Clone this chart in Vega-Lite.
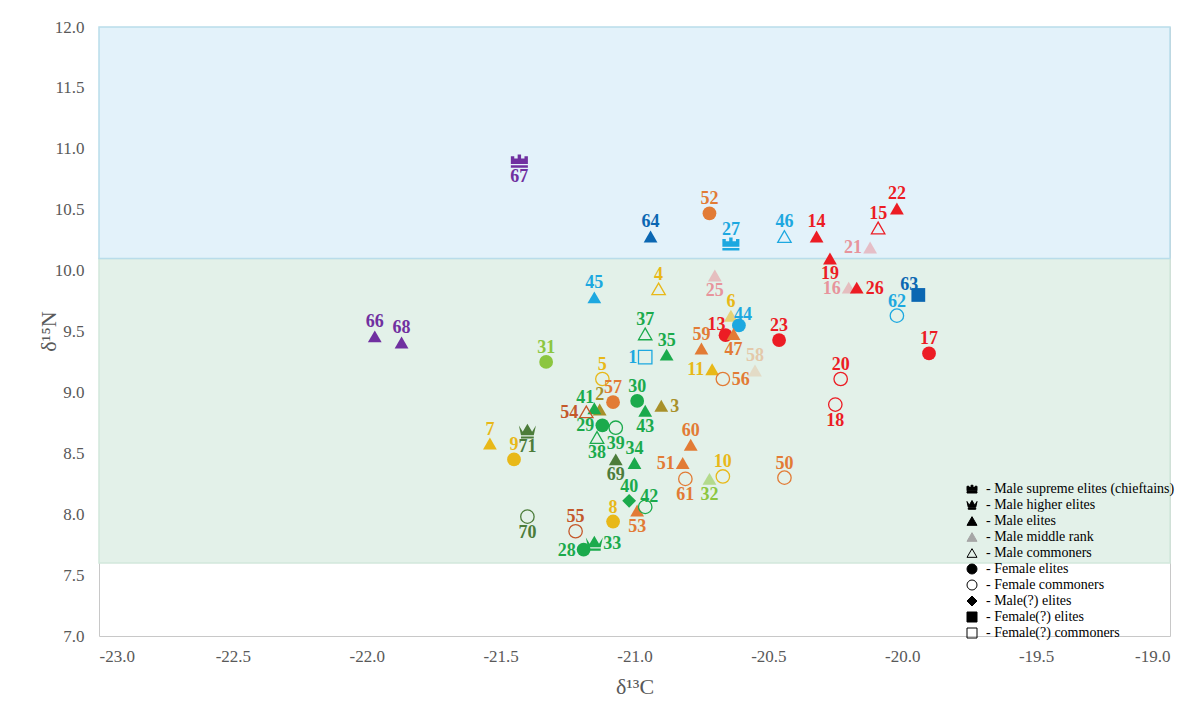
{
  "$schema": "https://vega.github.io/schema/vega-lite/v6.json",
  "width": 1071,
  "height": 609,
  "autosize": {"type": "none"},
  "padding": {"left": 99, "top": 27, "right": 29, "bottom": 71},
  "background": "white",
  "config": {
    "font": "Liberation Serif",
    "view": {"stroke": "#C8C8C8", "strokeWidth": 1},
    "legend": {"orient": "none", "legendX": 866, "legendY": 455, "title": null,
      "labelFont": "Liberation Serif", "labelFontSize": 14, "labelColor": "black", "labelLimit": 0,
      "labelOffset": 7, "symbolSize": 100, "rowPadding": 2, "symbolOpacity": 1, "symbolStrokeWidth": 1}
  },
  "datasets": {
    "bands": [
      {"x1": -23, "x2": -19, "lo": 7.6, "hi": 10.1, "zone": "mid"},
      {"x1": -23, "x2": -19, "lo": 10.1, "hi": 12, "zone": "high"}
    ],
    "pts": [
    {"id":1,"x":-20.96,"y":9.29,"cat":"Female(?) commoners","grp":"D"},
    {"id":2,"x":-21.13,"y":8.86,"cat":"Male elites","grp":"M"},
    {"id":3,"x":-20.90,"y":8.89,"cat":"Male elites","grp":"M"},
    {"id":4,"x":-20.91,"y":9.85,"cat":"Male commoners","grp":"H"},
    {"id":5,"x":-21.12,"y":9.11,"cat":"Female commoners","grp":"H"},
    {"id":6,"x":-20.64,"y":9.63,"cat":"Male middle rank","grp":"H"},
    {"id":7,"x":-21.54,"y":8.58,"cat":"Male elites","grp":"H"},
    {"id":8,"x":-21.08,"y":7.94,"cat":"Female elites","grp":"H"},
    {"id":9,"x":-21.45,"y":8.45,"cat":"Female elites","grp":"H"},
    {"id":10,"x":-20.67,"y":8.31,"cat":"Female commoners","grp":"H"},
    {"id":11,"x":-20.71,"y":9.19,"cat":"Male elites","grp":"H"},
    {"id":13,"x":-20.66,"y":9.47,"cat":"Female elites","grp":"B"},
    {"id":14,"x":-20.32,"y":10.28,"cat":"Male elites","grp":"B"},
    {"id":15,"x":-20.09,"y":10.35,"cat":"Male commoners","grp":"B"},
    {"id":16,"x":-20.20,"y":9.86,"cat":"Male middle rank","grp":"C"},
    {"id":17,"x":-19.90,"y":9.32,"cat":"Female elites","grp":"B"},
    {"id":18,"x":-20.25,"y":8.90,"cat":"Female commoners","grp":"B"},
    {"id":19,"x":-20.27,"y":10.10,"cat":"Male elites","grp":"B"},
    {"id":20,"x":-20.23,"y":9.11,"cat":"Female commoners","grp":"B"},
    {"id":21,"x":-20.12,"y":10.19,"cat":"Male middle rank","grp":"C"},
    {"id":22,"x":-20.02,"y":10.51,"cat":"Male elites","grp":"B"},
    {"id":23,"x":-20.46,"y":9.43,"cat":"Female elites","grp":"B"},
    {"id":25,"x":-20.70,"y":9.96,"cat":"Male middle rank","grp":"C"},
    {"id":26,"x":-20.17,"y":9.86,"cat":"Male elites","grp":"B"},
    {"id":27,"x":-20.64,"y":10.22,"cat":"Male supreme elites (chieftains)","grp":"D"},
    {"id":28,"x":-21.19,"y":7.71,"cat":"Female elites","grp":"J"},
    {"id":29,"x":-21.12,"y":8.73,"cat":"Female elites","grp":"J"},
    {"id":30,"x":-20.99,"y":8.93,"cat":"Female elites","grp":"J"},
    {"id":31,"x":-21.33,"y":9.25,"cat":"Female elites","grp":"K"},
    {"id":32,"x":-20.72,"y":8.29,"cat":"Male middle rank","grp":"K"},
    {"id":33,"x":-21.15,"y":7.76,"cat":"Male higher elites","grp":"J"},
    {"id":34,"x":-21.00,"y":8.42,"cat":"Male elites","grp":"J"},
    {"id":35,"x":-20.88,"y":9.31,"cat":"Male elites","grp":"J"},
    {"id":37,"x":-20.96,"y":9.48,"cat":"Male commoners","grp":"J"},
    {"id":38,"x":-21.14,"y":8.63,"cat":"Male commoners","grp":"J"},
    {"id":39,"x":-21.07,"y":8.71,"cat":"Female commoners","grp":"J"},
    {"id":40,"x":-21.02,"y":8.11,"cat":"Male(?) elites","grp":"J"},
    {"id":41,"x":-21.15,"y":8.87,"cat":"Male elites","grp":"J"},
    {"id":42,"x":-20.96,"y":8.06,"cat":"Female commoners","grp":"J"},
    {"id":43,"x":-20.96,"y":8.85,"cat":"Male elites","grp":"J"},
    {"id":44,"x":-20.61,"y":9.55,"cat":"Female elites","grp":"D"},
    {"id":45,"x":-21.15,"y":9.78,"cat":"Male elites","grp":"D"},
    {"id":46,"x":-20.44,"y":10.28,"cat":"Male commoners","grp":"D"},
    {"id":47,"x":-20.63,"y":9.48,"cat":"Male elites","grp":"F"},
    {"id":50,"x":-20.44,"y":8.30,"cat":"Female commoners","grp":"F"},
    {"id":51,"x":-20.82,"y":8.42,"cat":"Male elites","grp":"F"},
    {"id":52,"x":-20.72,"y":10.47,"cat":"Female elites","grp":"F"},
    {"id":53,"x":-20.99,"y":8.03,"cat":"Male elites","grp":"F"},
    {"id":54,"x":-21.18,"y":8.84,"cat":"Male commoners","grp":"G"},
    {"id":55,"x":-21.22,"y":7.86,"cat":"Female commoners","grp":"G"},
    {"id":56,"x":-20.67,"y":9.11,"cat":"Female commoners","grp":"F"},
    {"id":57,"x":-21.08,"y":8.92,"cat":"Female elites","grp":"F"},
    {"id":58,"x":-20.55,"y":9.18,"cat":"Male middle rank","grp":"I"},
    {"id":59,"x":-20.75,"y":9.36,"cat":"Male elites","grp":"F"},
    {"id":60,"x":-20.79,"y":8.57,"cat":"Male elites","grp":"F"},
    {"id":61,"x":-20.81,"y":8.29,"cat":"Female commoners","grp":"F"},
    {"id":62,"x":-20.02,"y":9.63,"cat":"Female commoners","grp":"D"},
    {"id":63,"x":-19.94,"y":9.80,"cat":"Female(?) elites","grp":"E"},
    {"id":64,"x":-20.94,"y":10.28,"cat":"Male elites","grp":"E"},
    {"id":66,"x":-21.97,"y":9.46,"cat":"Male elites","grp":"A"},
    {"id":67,"x":-21.43,"y":10.90,"cat":"Male supreme elites (chieftains)","grp":"A"},
    {"id":68,"x":-21.87,"y":9.41,"cat":"Male elites","grp":"A"},
    {"id":69,"x":-21.07,"y":8.45,"cat":"Male elites","grp":"L"},
    {"id":70,"x":-21.40,"y":7.98,"cat":"Female commoners","grp":"L"},
    {"id":71,"x":-21.40,"y":8.68,"cat":"Male higher elites","grp":"L"}
  ]},
  "layer": [
    {
      "data": {"name": "bands"},
      "transform": [{"filter": "datum.zone === 'mid'"}],
      "mark": {"type": "rect", "fill": "#E3F1E9", "stroke": "#D2E8DC", "strokeWidth": 1.5},
      "encoding": {
        "x": {"field": "x1", "type": "quantitative", "title": "δ¹³C",
          "scale": {"domain": [-23, -19], "nice": false, "zero": false},
          "axis": {"values": [-23, -22.5, -22, -21.5, -21, -20.5, -20, -19.5, -19],
            "labelExpr": "replace(format(datum.value, '.1f'), '\u2212', '-')",
            "ticks": false, "domain": false, "grid": false,
            "labelFont": "Liberation Serif", "labelFontSize": 17, "labelColor": "#595959", "labelPadding": 12,
            "titleFont": "Liberation Serif", "titleFontSize": 22, "titleFontWeight": "normal", "titleColor": "#595959",
            "titleY": 50, "titleBaseline": "middle"}},
        "x2": {"field": "x2"},
        "y": {"field": "lo", "type": "quantitative", "title": "δ¹⁵N",
          "scale": {"domain": [7, 12], "nice": false, "zero": false},
          "axis": {"values": [7, 7.5, 8, 8.5, 9, 9.5, 10, 10.5, 11, 11.5, 12],
            "labelExpr": "format(datum.value, '.1f')",
            "ticks": false, "domain": false, "grid": false,
            "labelFont": "Liberation Serif", "labelFontSize": 17, "labelColor": "#595959", "labelPadding": 15,
            "titleFont": "Liberation Serif", "titleFontSize": 22, "titleFontWeight": "normal", "titleColor": "#595959",
            "titleX": -51, "titleY": 304, "titleAlign": "center", "titleBaseline": "middle"}},
        "y2": {"field": "hi"}
      }
    },
    {
      "data": {"name": "bands"},
      "transform": [{"filter": "datum.zone === 'high'"}],
      "mark": {"type": "rect", "fill": "#E3F2FA", "stroke": "#B9DDEA", "strokeWidth": 1.5},
      "encoding": {
        "x": {"field": "x1", "type": "quantitative", "title": "δ¹³C"},
        "x2": {"field": "x2"},
        "y": {"field": "lo", "type": "quantitative", "title": "δ¹⁵N"},
        "y2": {"field": "hi"}
      }
    },
    {
      "data": {"name": "pts"},
      "mark": {"type": "point", "filled": true, "opacity": 0, "size": 100},
      "encoding": {
        "x": {"field": "x", "type": "quantitative", "title": "δ¹³C"},
        "y": {"field": "y", "type": "quantitative", "title": "δ¹⁵N"},
        "shape": {"field": "cat", "type": "nominal",
          "scale": {
            "domain": ["Male supreme elites (chieftains)", "Male higher elites", "Male elites", "Male middle rank", "Male commoners", "Female elites", "Female commoners", "Male(?) elites", "Female(?) elites", "Female(?) commoners"],
            "range": [
              "M-1,-0.55L-0.6,-0.55L-0.6,-0.3L-0.2,-0.3L-0.2,-0.75L0.2,-0.75L0.2,-0.3L0.6,-0.3L0.6,-0.55L1,-0.55L1,0.35L-1,0.35ZM-1,0.5L1,0.5L1,0.8L-1,0.8Z",
              "M-1,-0.7L-0.55,0.05L0,-0.9L0.55,0.05L1,-0.7L0.75,0.45L-0.75,0.45ZM-0.75,0.6L0.75,0.6L0.75,0.85L-0.75,0.85Z",
              "triangle-up", "triangle-up", "triangle-up", "circle", "circle", "diamond", "square", "square"]},
          "legend": {"labelExpr": "'- ' + datum.label"}},
        "fill": {"field": "cat", "type": "nominal",
          "scale": {
            "domain": ["Male supreme elites (chieftains)", "Male higher elites", "Male elites", "Male middle rank", "Male commoners", "Female elites", "Female commoners", "Male(?) elites", "Female(?) elites", "Female(?) commoners"],
            "range": ["black", "black", "black", "#A6A6A6", "transparent", "black", "transparent", "black", "black", "transparent"]},
          "legend": {"labelExpr": "'- ' + datum.label"}},
        "stroke": {"field": "cat", "type": "nominal",
          "scale": {
            "domain": ["Male supreme elites (chieftains)", "Male higher elites", "Male elites", "Male middle rank", "Male commoners", "Female elites", "Female commoners", "Male(?) elites", "Female(?) elites", "Female(?) commoners"],
            "range": ["black", "black", "black", "#A6A6A6", "black", "black", "black", "black", "black", "black"]},
          "legend": {"labelExpr": "'- ' + datum.label"}}
      }
    },
    {
      "data": {"name": "pts"},
      "transform": [{"filter": "indexof(['Male commoners','Female commoners','Female(?) commoners','Male supreme elites (chieftains)','Male higher elites'], datum.cat) < 0"}],
      "mark": {"type": "point", "filled": true, "strokeWidth": 0, "size": 190},
      "encoding": {
        "x": {"field": "x", "type": "quantitative", "title": "δ¹³C"},
        "y": {"field": "y", "type": "quantitative", "title": "δ¹⁵N"},
        "shape": {"field": "cat", "type": "nominal", "legend": {"labelExpr": "'- ' + datum.label"}},
        "color": {"field": "grp", "type": "nominal", "legend": null,
          "scale": {"domain": ["A","B","C","D","E","F","G","H","I","J","K","L","M"],
            "range": ["#7030A0","#EC1C24","#E7949C","#1DA8E0","#0B67B2","#E27B35","#C4582A","#E8B818","#E3C9AA","#1BAA4C","#8CC63F","#4C7C3A","#A8902A"]}},
        "opacity": {"condition": {"test": "datum.cat === 'Male middle rank'", "value": 0.55}, "value": 1}
      }
    },
    {
      "data": {"name": "pts"},
      "transform": [{"filter": "indexof(['Male supreme elites (chieftains)','Male higher elites'], datum.cat) >= 0"}],
      "mark": {"type": "point", "filled": true, "strokeWidth": 0, "size": 290, "opacity": 1},
      "encoding": {
        "x": {"field": "x", "type": "quantitative", "title": "δ¹³C"},
        "y": {"field": "y", "type": "quantitative", "title": "δ¹⁵N"},
        "shape": {"field": "cat", "type": "nominal", "legend": {"labelExpr": "'- ' + datum.label"}},
        "color": {"field": "grp", "type": "nominal", "legend": null}
      }
    },
    {
      "data": {"name": "pts"},
      "transform": [{"filter": "indexof(['Male commoners','Female commoners','Female(?) commoners'], datum.cat) >= 0"}],
      "mark": {"type": "point", "filled": false, "strokeWidth": 1.3, "opacity": 1, "size": 180},
      "encoding": {
        "x": {"field": "x", "type": "quantitative", "title": "δ¹³C"},
        "y": {"field": "y", "type": "quantitative", "title": "δ¹⁵N"},
        "shape": {"field": "cat", "type": "nominal", "legend": {"labelExpr": "'- ' + datum.label"}},
        "color": {"field": "grp", "type": "nominal", "legend": null}
      }
    },
    {
      "data": {"name": "pts"},
      "transform": [{"filter": {"field": "id", "oneOf": [66,68,31,45,64,52,27,46,14,22,15,62,17,4,6,23,37,35,59,58,20,5,57,2,30,7,9,34,60,10,50,40,8,55]}}],
      "mark": {"type": "text", "font": "Liberation Serif", "fontWeight": "bold", "fontSize": 18, "align": "center", "baseline": "alphabetic", "dy": -9},
      "encoding": {"x": {"field": "x", "type": "quantitative", "title": "δ¹³C"}, "y": {"field": "y", "type": "quantitative", "title": "δ¹⁵N"}, "text": {"field": "id"}, "color": {"field": "grp", "type": "nominal", "legend": null}}
    },
    {
      "data": {"name": "pts"},
      "transform": [{"filter": {"field": "id", "oneOf": [13,41,63]}}],
      "mark": {"type": "text", "font": "Liberation Serif", "fontWeight": "bold", "fontSize": 18, "align": "center", "baseline": "alphabetic", "dx": -9, "dy": -5},
      "encoding": {"x": {"field": "x", "type": "quantitative", "title": "δ¹³C"}, "y": {"field": "y", "type": "quantitative", "title": "δ¹⁵N"}, "text": {"field": "id"}, "color": {"field": "grp", "type": "nominal", "legend": null}}
    },
    {
      "data": {"name": "pts"},
      "transform": [{"filter": {"field": "id", "oneOf": [44,42]}}],
      "mark": {"type": "text", "font": "Liberation Serif", "fontWeight": "bold", "fontSize": 18, "align": "center", "baseline": "alphabetic", "dx": 4, "dy": -5},
      "encoding": {"x": {"field": "x", "type": "quantitative", "title": "δ¹³C"}, "y": {"field": "y", "type": "quantitative", "title": "δ¹⁵N"}, "text": {"field": "id"}, "color": {"field": "grp", "type": "nominal", "legend": null}}
    },
    {
      "data": {"name": "pts"},
      "transform": [{"filter": {"field": "id", "oneOf": [67,19,25,47,18,43,39,38,71,69,61,32,53,70]}}],
      "mark": {"type": "text", "font": "Liberation Serif", "fontWeight": "bold", "fontSize": 18, "align": "center", "baseline": "alphabetic", "dy": 21},
      "encoding": {"x": {"field": "x", "type": "quantitative", "title": "δ¹³C"}, "y": {"field": "y", "type": "quantitative", "title": "δ¹⁵N"}, "text": {"field": "id"}, "color": {"field": "grp", "type": "nominal", "legend": null}}
    },
    {
      "data": {"name": "pts"},
      "transform": [{"filter": {"field": "id", "oneOf": [21,16,1,11,54,29,51,28]}}],
      "mark": {"type": "text", "font": "Liberation Serif", "fontWeight": "bold", "fontSize": 18, "align": "right", "baseline": "alphabetic", "dx": -8, "dy": 6},
      "encoding": {"x": {"field": "x", "type": "quantitative", "title": "δ¹³C"}, "y": {"field": "y", "type": "quantitative", "title": "δ¹⁵N"}, "text": {"field": "id"}, "color": {"field": "grp", "type": "nominal", "legend": null}}
    },
    {
      "data": {"name": "pts"},
      "transform": [{"filter": {"field": "id", "oneOf": [26,56,3,33]}}],
      "mark": {"type": "text", "font": "Liberation Serif", "fontWeight": "bold", "fontSize": 18, "align": "left", "baseline": "alphabetic", "dx": 9, "dy": 6},
      "encoding": {"x": {"field": "x", "type": "quantitative", "title": "δ¹³C"}, "y": {"field": "y", "type": "quantitative", "title": "δ¹⁵N"}, "text": {"field": "id"}, "color": {"field": "grp", "type": "nominal", "legend": null}}
    }
  ]
}
